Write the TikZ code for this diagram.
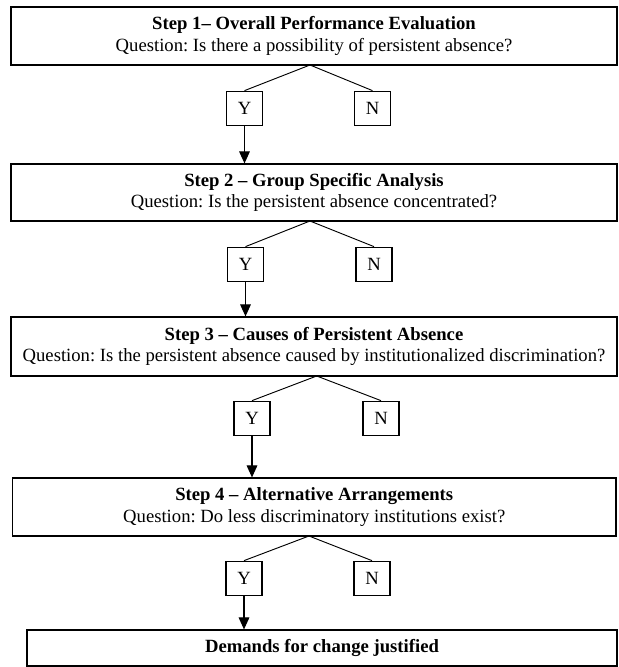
\documentclass[tikz,border=0pt]{standalone}
\usepackage{fontspec}
\setmainfont{Liberation Serif}
\usetikzlibrary{positioning, shapes, arrows.meta, calc}
\frenchspacing

\begin{document}
\begin{tikzpicture}[x=0.75pt, y=-0.75pt,
    stepbox/.style={draw, line width=0.9pt, align=center, inner sep=0pt, font=\fontsize{14}{16}\selectfont},
    answer/.style={draw, line width=0.8pt, minimum width=27pt, minimum height=26pt, inner sep=0pt, font=\fontsize{14}{16}\selectfont},
    branch/.style={line width=0.7pt},
    flow/.style={line width=0.8pt, -{Triangle[length=9pt, width=8pt]}}]
    \useasboundingbox (0,0) rectangle (618,667);

    % Step 1
    \node[stepbox, minimum width=454.5pt, minimum height=43.5pt] (step1) at (314,36)
        {\textbf{Step 1– Overall Performance Evaluation}\\Question: Is there a possibility of persistent absence?};
    \coordinate (split1) at (310,65);
    \node[answer] (yes1) at (244.5,108.5) {Y};
    \node[answer] (no1) at (372.5,108.5) {N};
    \draw[branch] (yes1.north) -- (split1) -- (no1.north);

    % Step 2
    \node[stepbox, minimum width=454.5pt, minimum height=42.75pt] (step2) at (314,192.5)
        {\textbf{Step 2 – Group Specific Analysis}\\Question: Is the persistent absence concentrated?};
    \draw[flow] (yes1.south) -- (yes1.south |- step2.north);
    \coordinate (split2) at (310,221);
    \node[answer] (yes2) at (245.5,264.5) {Y};
    \node[answer] (no2) at (374,264.5) {N};
    \draw[branch] (yes2.north) -- (split2) -- (no2.north);

    % Step 3
    \node[stepbox, minimum width=454.5pt, minimum height=44.25pt] (step3) at (314,346.5)
        {\textbf{Step 3 – Causes of Persistent Absence}\\Question: Is the persistent absence caused by institutionalized discrimination?};
    \draw[flow] (yes2.south) -- (yes2.south |- step3.north);
    \coordinate (split3) at (316.7,376);
    \node[answer] (yes3) at (252,418.5) {Y};
    \node[answer] (no3) at (381,418.5) {N};
    \draw[branch] (yes3.north) -- (split3) -- (no3.north);

    % Step 4
    \node[stepbox, minimum width=452.6pt, minimum height=43.5pt] (step4) at (314.25,507)
        {\textbf{Step 4 – Alternative Arrangements}\\Question: Do less discriminatory institutions exist?};
    \draw[flow] (yes3.south) -- (yes3.south |- step4.north);
    \coordinate (split4) at (309,536);
    \node[answer] (yes4) at (244,578.5) {Y};
    \node[answer] (no4) at (372,578.5) {N};
    \draw[branch] (yes4.north) -- (split4) -- (no4.north);

    % Outcome
    \node[stepbox, minimum width=442.5pt, minimum height=27pt] (change) at (322,648)
        {\textbf{Demands for change justified}};
    \draw[flow] (yes4.south) -- (yes4.south |- change.north);
\end{tikzpicture}
\end{document}
